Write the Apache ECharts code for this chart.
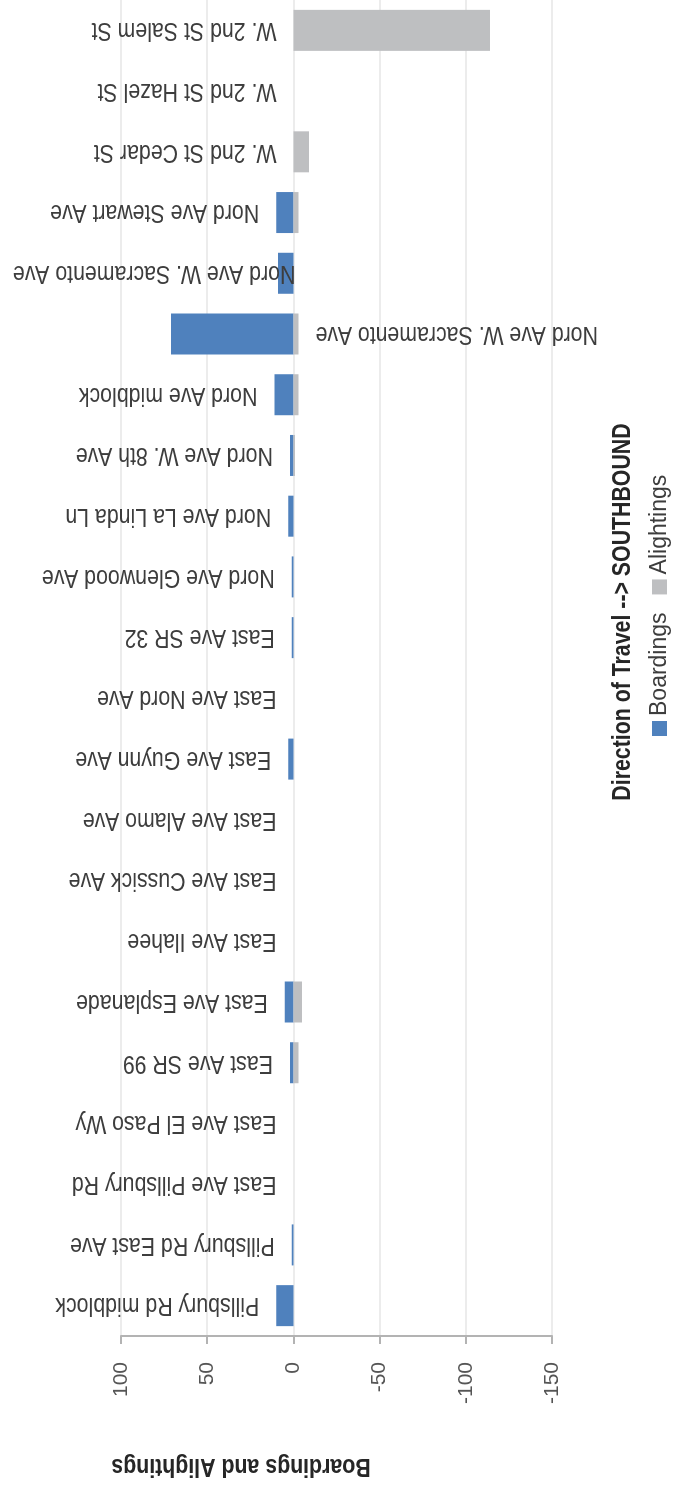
<!DOCTYPE html>
<html><head><meta charset="utf-8">
<script src="https://cdn.jsdelivr.net/npm/echarts@6/dist/echarts.min.js"></script>
<style>
html,body{margin:0;padding:0;width:678px;height:1491px;overflow:hidden;background:#fff;}
#wrap{position:absolute;left:0;top:0;width:1491px;height:678px;transform-origin:0 0;transform:translate(0px,1491px) rotate(-90deg);}
#chart{width:1491px;height:678px;}
</style></head><body>
<div id="wrap"><div id="chart"></div></div>
<script>
// Stops in direction of travel (southbound)
const stops = [
  'Pillsbury Rd midblock','Pillsbury Rd East Ave','East Ave Pillsbury Rd','East Ave El Paso Wy',
  'East Ave SR 99','East Ave Esplanade','East Ave Ilahee','East Ave Cussick Ave','East Ave Alamo Ave',
  'East Ave Guynn Ave','East Ave Nord Ave','East Ave SR 32','Nord Ave Glenwood Ave','Nord Ave La Linda Ln',
  'Nord Ave W. 8th Ave','Nord Ave midblock','Nord Ave W. Sacramento Ave','Nord Ave W. Sacramento Ave',
  'Nord Ave Stewart Ave','W. 2nd St Cedar St','W. 2nd St Hazel St','W. 2nd St Salem St'
];
const boardings  = [10, 1, 0, 0, 2, 5, 0, 0, 0, 3, 0, 1, 1, 3, 2, 11, 71, 9, 10, 0, 0, 0];
const alightings = [0, 0, 0, 0, -3, -5, 0, 0, 0, 0, 0, 0, 0, 0, -1, -3, -3, 0, -3, -9, 0, -114];
const valueMin = -150, valueMax = 100, valueStep = 50;
const seriesNames = ['Boardings', 'Alightings'];
const axisTitle = 'Boardings and Alightings';
const legendTitle = 'Direction of Travel --> SOUTHBOUND';

const FONT = '"Liberation Sans", Arial, sans-serif';
const NARROW = 0.82;      // emulate a narrow face by horizontal scaling
const LBL = '#3d3d3d';
const LABEL_PX = 26;

const mctx = document.createElement('canvas').getContext('2d');
function textLen(t) {
  mctx.font = LABEL_PX + 'px "Liberation Sans"';
  return mctx.measureText(t).width * NARROW;
}

function renderLabel(params, api) {
  const i = api.value(0), b = api.value(1), a = api.value(2);
  const zero = api.coord([i, 0]);
  const bTop = api.coord([i, b]);
  const aEnd = api.coord([i, a]);
  const name = stops[i];
  const w = textLen(name);
  const gap = 17, topLimit = 13;
  let y, align;
  const start = bTop[1] - gap;
  if (start - w >= topLimit) { y = start; align = 'left'; }
  else if ((topLimit + w) - start <= 60) { y = topLimit + w; align = 'left'; }
  else { y = aEnd[1] + gap; align = 'right'; }
  return {
    type: 'text', x: zero[0], y: y, rotation: Math.PI / 2, scaleX: NARROW, silent: true,
    style: { text: name, fontSize: LABEL_PX, fontFamily: FONT, fill: LBL, align: align, verticalAlign: 'middle' }
  };
}

const chart = echarts.init(document.getElementById('chart'), null, { renderer: 'canvas' });
chart.setOption({
  animation: false,
  backgroundColor: '#ffffff',
  grid: { left: 155, right: -3, top: 121, bottom: 126, containLabel: false },
  xAxis: {
    type: 'category', data: stops,
    axisLine: { show: false }, axisTick: { show: false }, axisLabel: { show: false }, splitLine: { show: false }
  },
  yAxis: {
    type: 'value', min: valueMin, max: valueMax, interval: valueStep,
    axisLine: { show: true, lineStyle: { color: '#b3b3b3', width: 2 } },
    axisTick: { show: true, length: 8, lineStyle: { color: '#b3b3b3', width: 2 } },
    axisLabel: { margin: 26, fontSize: 21, fontFamily: FONT, color: '#555555' },
    splitLine: { show: true, lineStyle: { color: '#ececec', width: 2 } }
  },
  legend: {
    data: seriesNames, left: 755, top: 648, padding: 0, orient: 'horizontal',
    itemWidth: 15, itemHeight: 15, itemGap: 18, icon: 'rect',
    textStyle: { fontSize: 23, fontFamily: FONT, color: LBL }
  },
  graphic: [
    { type: 'text', x: 25, y: 241, rotation: Math.PI / 2, scaleX: NARROW,
      style: { text: axisTitle, fontSize: 26, fontWeight: 'bold', fontFamily: FONT, fill: '#262626',
               align: 'center', verticalAlign: 'middle' } },
    { type: 'text', x: 879, y: 623, scaleX: NARROW,
      style: { text: legendTitle, fontSize: 26, fontWeight: 'bold', fontFamily: FONT, fill: '#262626',
               align: 'center', verticalAlign: 'middle' } }
  ],
  series: [
    { name: seriesNames[0], type: 'bar', stack: 'total', barWidth: 41, data: boardings,
      itemStyle: { color: '#4f81bd' }, emphasis: { disabled: true } },
    { name: seriesNames[1], type: 'bar', stack: 'total', barWidth: 41, data: alightings,
      itemStyle: { color: '#bebfc1' }, emphasis: { disabled: true } },
    { name: 'labels', type: 'custom', silent: true, z: 5,
      data: stops.map((s, i) => [i, boardings[i], alightings[i]]),
      encode: { x: 0, y: [1, 2] },
      renderItem: renderLabel }
  ]
});
</script>
</body></html>
